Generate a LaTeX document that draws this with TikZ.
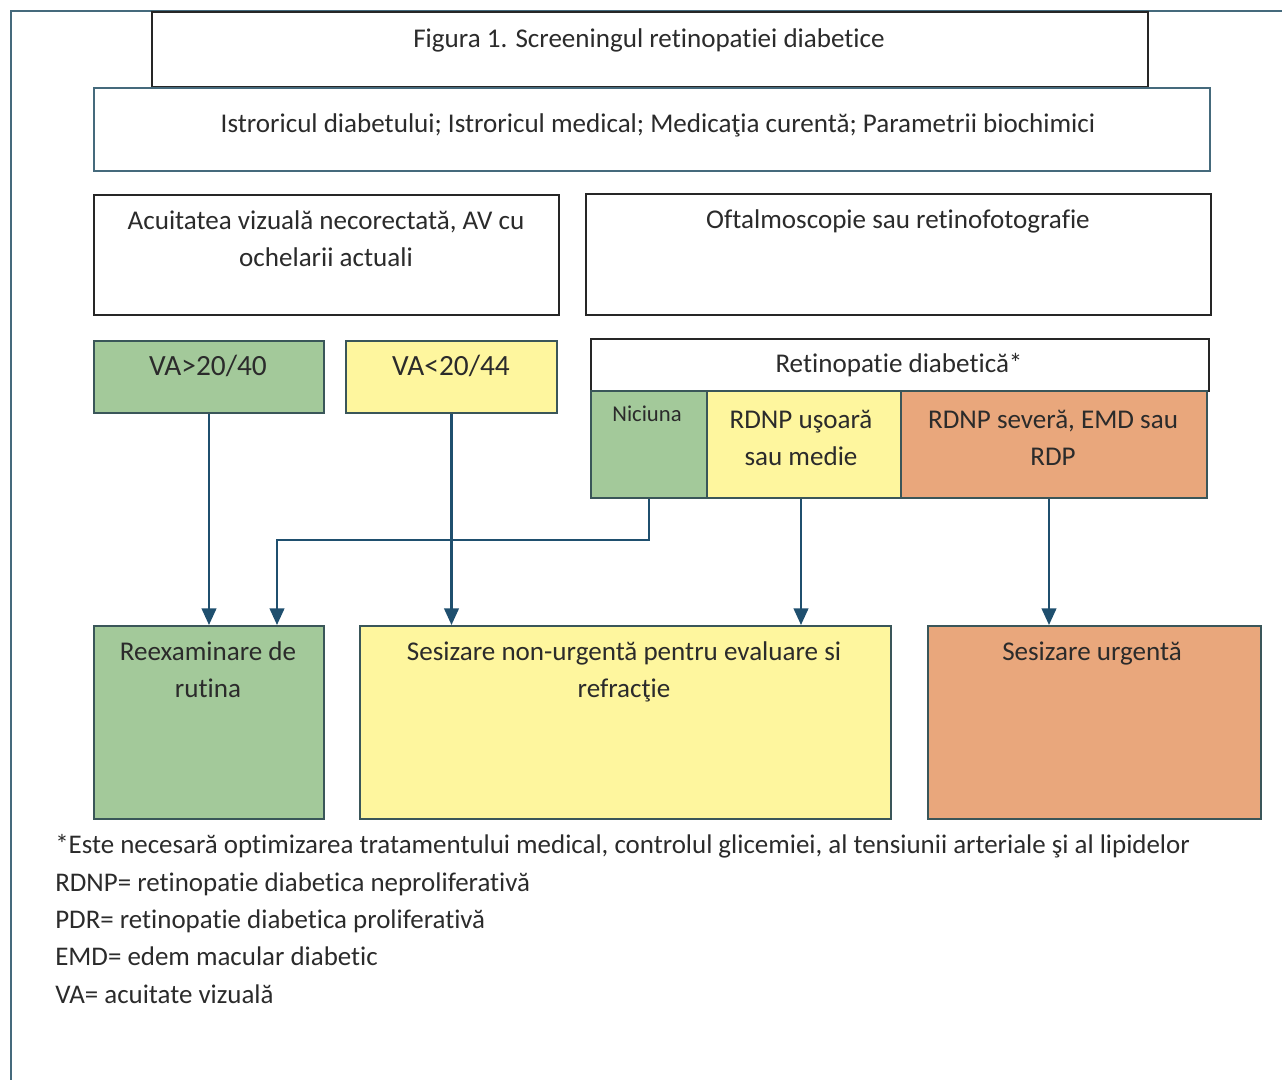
\documentclass[tikz,border=0pt]{standalone}
\usepackage{fontspec}
\setmainfont{Carlito}[Ligatures=NoCommon]
\usetikzlibrary{arrows.meta}
\newdimen\pxu \pxu=0.75pt
\definecolor{framec}{HTML}{456A7C}
\definecolor{gfill}{HTML}{A3C99A}
\definecolor{yfill}{HTML}{FEF69E}
\definecolor{ofill}{HTML}{E9A77C}
\definecolor{bord}{HTML}{3A5659}
\definecolor{arrc}{HTML}{1F4F6E}
\definecolor{txtc}{HTML}{2B2B2B}
\tikzset{
  box/.style={draw, line width=1.5pt, anchor=north west, inner sep=0pt},
  wbox/.style={box, draw=black!85, line width=1.2pt, fill=white},
  tbox/.style={box, draw=framec, line width=1.8pt, fill=white},
  gbox/.style={box, draw=bord, fill=gfill},
  ybox/.style={box, draw=bord, fill=yfill},
  obox/.style={box, draw=bord, fill=ofill},
  lbl/.style={inner sep=0pt, anchor=base, text=txtc, align=center,
    font=\fontsize{20.3}{27.75}\selectfont},
  big/.style={lbl, font=\fontsize{22}{27.75}\selectfont},
  small/.style={lbl, font=\fontsize{17}{24}\selectfont},
  note/.style={inner sep=0pt, anchor=base west, text=txtc,
    font=\fontsize{20.2}{27.75}\selectfont},
  arrow/.style={draw=arrc, line width=1.6pt,
    -{Triangle[length=12.5pt,width=11pt]}}
}
\begin{document}
\begin{tikzpicture}[x=0.75pt,y=-0.75pt]
\useasboundingbox (0,0) rectangle (1282,1080);
% outer frame
\draw[framec, line width=2pt] (11,1080) -- (11,11) -- (1282,11);
% boxes
\node[wbox, minimum width=996\pxu, minimum height=75\pxu] (title) at (151,11) {};
\node[tbox, minimum width=1116\pxu, minimum height=83\pxu] (hist) at (93,87) {};
\node[wbox, minimum width=465\pxu, minimum height=120\pxu] (acuit) at (93,194) {};
\node[wbox, minimum width=625\pxu, minimum height=121\pxu] (oft) at (585,193) {};
\node[gbox, minimum width=230\pxu, minimum height=72\pxu] (va1) at (93,340) {};
\node[ybox, minimum width=211\pxu, minimum height=72\pxu] (va2) at (345,340) {};
\node[wbox, minimum width=618\pxu, minimum height=52\pxu] (ret) at (590,338) {};
\node[gbox, minimum width=116\pxu, minimum height=107\pxu] (nic) at (590,390) {};
\node[ybox, minimum width=194\pxu, minimum height=107\pxu] (usor) at (706,390) {};
\node[obox, minimum width=306\pxu, minimum height=107\pxu] (sev) at (900,390) {};
\node[gbox, minimum width=230\pxu, minimum height=193\pxu] (reex) at (93,625) {};
\node[ybox, minimum width=531\pxu, minimum height=193\pxu] (nonurg) at (359,625) {};
\node[obox, minimum width=333\pxu, minimum height=193\pxu] (urg) at (927,625) {};
% texts (two-line nodes: base = last line)
\node[lbl] (t1) at (649,48) {Figura 1. Screeningul retinopatiei diabetice};
\node[lbl] (t2) at (658,133) {Istroricul diabetului; Istroricul medical; Medicaţia curentă; Parametrii biochimici};
\node[lbl] (t3) at (326,267) {Acuitatea vizuală necorectată, AV cu\\ochelarii actuali};
\node[lbl] (t4) at (898,229) {Oftalmoscopie sau retinofotografie};
\node[big] (t5) at (208,376) {VA>20/40};
\node[big] (t6) at (451,376) {VA<20/44};
\node[lbl] (t7) at (899,373) {Retinopatie diabetică*};
\node[small] (t8) at (647,422) {Niciuna};
\node[lbl] (t9) at (801,465) {RDNP uşoară\\sau medie};
\node[lbl] (t10) at (1053,465) {RDNP severă, EMD sau\\RDP};
\node[lbl] (t11) at (208,697) {Reexaminare de\\rutina};
\node[lbl] (t12) at (624,697) {Sesizare non-urgentă pentru evaluare si\\refracţie};
\node[lbl] (t13) at (1092,660) {Sesizare urgentă};
% notes
\node[note] (n1) at (55,853) {*Este necesară optimizarea tratamentului medical, controlul glicemiei, al tensiunii arteriale şi al lipidelor};
\node[note] (n2) at (55,891) {RDNP= retinopatie diabetica neproliferativă};
\node[note] (n3) at (55,928) {PDR= retinopatie diabetica proliferativă};
\node[note] (n4) at (55,965) {EMD= edem macular diabetic};
\node[note] (n5) at (55,1003) {VA= acuitate vizuală};
% connectors
\coordinate (j) at (277,540);
\draw[arrow] (va1.south) -- (reex.north);
\draw[arrow] (nic.south) |- (j) -- (j |- reex.north);
\draw[arrow] (va2.south) -- (va2.south |- nonurg.north);
\draw[arrow] ([xshift=-3\pxu]usor.south) -- ([xshift=-3\pxu]usor.south |- nonurg.north);
\draw[arrow] ([xshift=-5\pxu]sev.south) -- ([xshift=-5\pxu]sev.south |- urg.north);
\end{tikzpicture}
\end{document}
